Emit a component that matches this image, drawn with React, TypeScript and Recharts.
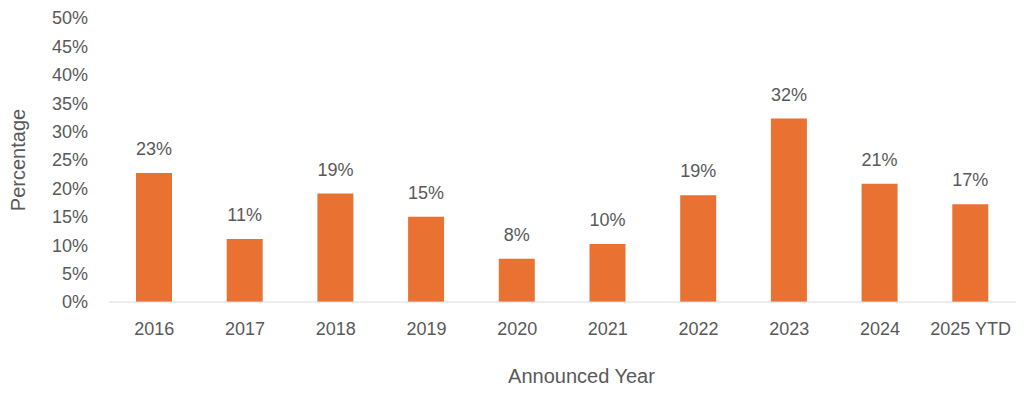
import { BarChart, Bar, XAxis, YAxis, LabelList } from 'recharts';

const years = ['2016', '2017', '2018', '2019', '2020', '2021', '2022', '2023', '2024', '2025 YTD'];
const percentages = [22.7, 11.1, 19.1, 15.0, 7.6, 10.2, 18.8, 32.3, 20.8, 17.2];
const yTicks = [0, 5, 10, 15, 20, 25, 30, 35, 40, 45, 50];

const data = years.map((year, i) => ({ year, value: percentages[i] }));

const FONT = "'Liberation Sans', Arial, sans-serif";
const TEXT = '#595959';

export default function App() {
  return (
    <div style={{ position: 'absolute', left: 0, top: 0, background: '#fff' }}>
      <BarChart width={1024} height={399} data={data} margin={{ top: 18, right: 8, bottom: 0, left: 0 }}>
        <XAxis
          dataKey="year"
          height={97}
          tickLine={false}
          axisLine={{ stroke: '#d9d9d9' }}
          tickMargin={14}
          interval={0}
          tick={{ fontFamily: FONT, fontSize: 18, fill: TEXT }}
          label={{ value: 'Announced Year', position: 'insideBottom', offset: 16, dx: 19, fontFamily: FONT, fontSize: 20, fill: TEXT }}
        />
        <YAxis
          width={109}
          domain={[0, 50]}
          ticks={yTicks}
          axisLine={false}
          tickLine={false}
          tickMargin={15}
          interval={0}
          tickFormatter={(v: number) => `${v}%`}
          tick={{ fontFamily: FONT, fontSize: 18, fill: TEXT }}
          label={{ value: 'Percentage', angle: -90, position: 'insideLeft', offset: 18, fontFamily: FONT, fontSize: 20, fill: TEXT, style: { textAnchor: 'middle' } }}
        />
        <Bar dataKey="value" fill="#E97132" barSize={36} isAnimationActive={false}>
          <LabelList
            dataKey="value"
            position="top"
            offset={18}
            formatter={(v: number) => `${Math.round(v)}%`}
            style={{ fontFamily: FONT, fontSize: 18, fill: TEXT }}
          />
        </Bar>
      </BarChart>
    </div>
  );
}
